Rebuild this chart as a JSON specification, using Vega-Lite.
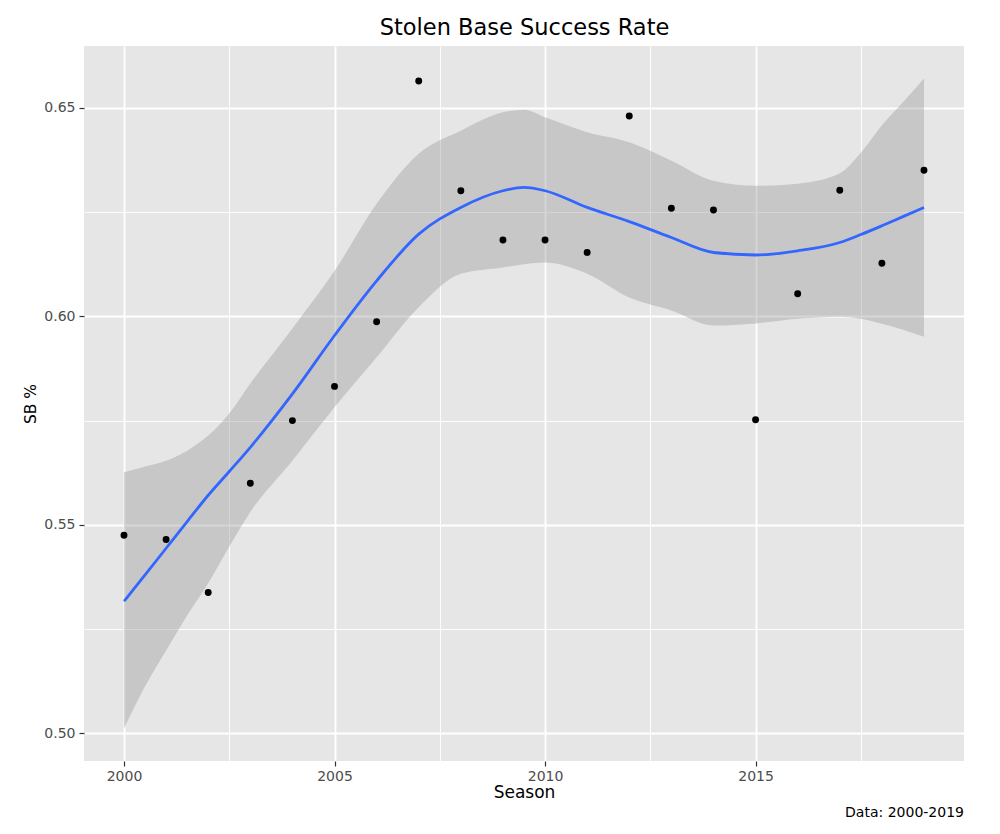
{
  "$schema": "https://vega.github.io/schema/vega-lite/v6.json",
  "autosize": {"type": "none"},
  "width": 880,
  "height": 715,
  "padding": {"left": 84, "top": 46, "right": 36, "bottom": 73},
  "background": "white",
  "title": {
    "text": "Data: 2000-2019",
    "orient": "bottom",
    "anchor": "end",
    "frame": "group",
    "font": "DejaVu Sans",
    "fontSize": 14,
    "fontWeight": "normal",
    "color": "#000000",
    "offset": 6
  },
  "config": {
    "view": {"stroke": null, "fill": "#E6E6E6"},
    "font": "DejaVu Sans"
  },
  "datasets": {
    "fit": [
      {"season": 2000, "fit": 0.5317, "lo": 0.5012, "hi": 0.5626},
      {"season": 2000.5, "fit": 0.538, "lo": 0.5113, "hi": 0.564},
      {"season": 2001, "fit": 0.5444, "lo": 0.5199, "hi": 0.5654},
      {"season": 2001.5, "fit": 0.5508, "lo": 0.5283, "hi": 0.5678},
      {"season": 2002, "fit": 0.5571, "lo": 0.536, "hi": 0.5714},
      {"season": 2002.5, "fit": 0.5628, "lo": 0.5448, "hi": 0.5767},
      {"season": 2003, "fit": 0.5686, "lo": 0.5531, "hi": 0.5839},
      {"season": 2004, "fit": 0.5814, "lo": 0.5654, "hi": 0.5971},
      {"season": 2005, "fit": 0.5954, "lo": 0.5782, "hi": 0.6109},
      {"season": 2006, "fit": 0.6085, "lo": 0.5902, "hi": 0.627},
      {"season": 2007, "fit": 0.6197, "lo": 0.6022, "hi": 0.639},
      {"season": 2008, "fit": 0.6261, "lo": 0.6102, "hi": 0.6445},
      {"season": 2009, "fit": 0.6301, "lo": 0.6117, "hi": 0.6489},
      {"season": 2009.5, "fit": 0.6309, "lo": 0.6125, "hi": 0.6495},
      {"season": 2010, "fit": 0.6301, "lo": 0.6129, "hi": 0.6477},
      {"season": 2011, "fit": 0.6261, "lo": 0.6102, "hi": 0.6441},
      {"season": 2012, "fit": 0.6227, "lo": 0.6045, "hi": 0.6417},
      {"season": 2013, "fit": 0.6189, "lo": 0.6014, "hi": 0.6373},
      {"season": 2014, "fit": 0.6153, "lo": 0.5978, "hi": 0.6325},
      {"season": 2015, "fit": 0.6147, "lo": 0.5983, "hi": 0.6313},
      {"season": 2016, "fit": 0.6157, "lo": 0.5994, "hi": 0.6318},
      {"season": 2017, "fit": 0.6177, "lo": 0.5999, "hi": 0.6343},
      {"season": 2017.5, "fit": 0.6196, "lo": 0.5994, "hi": 0.6392},
      {"season": 2018, "fit": 0.6217, "lo": 0.5982, "hi": 0.6458},
      {"season": 2018.5, "fit": 0.6239, "lo": 0.5968, "hi": 0.6513},
      {"season": 2019, "fit": 0.6261, "lo": 0.5951, "hi": 0.657}
    ],
    "obs": [
      {"season": 2000, "sb": 0.5475},
      {"season": 2001, "sb": 0.5465},
      {"season": 2002, "sb": 0.5338},
      {"season": 2003, "sb": 0.56},
      {"season": 2004, "sb": 0.575},
      {"season": 2005, "sb": 0.5832},
      {"season": 2006, "sb": 0.5987},
      {"season": 2007, "sb": 0.6564},
      {"season": 2008, "sb": 0.6301},
      {"season": 2009, "sb": 0.6183},
      {"season": 2010, "sb": 0.6183},
      {"season": 2011, "sb": 0.6153},
      {"season": 2012, "sb": 0.648},
      {"season": 2013, "sb": 0.6259},
      {"season": 2014, "sb": 0.6255},
      {"season": 2015, "sb": 0.5752},
      {"season": 2016, "sb": 0.6054},
      {"season": 2017, "sb": 0.6302},
      {"season": 2018, "sb": 0.6127},
      {"season": 2019, "sb": 0.635}
    ]
  },
  "layer": [
    {
      "data": {"name": "fit"},
      "mark": {"type": "area", "color": "#999999", "opacity": 0.4, "interpolate": "monotone"},
      "encoding": {
        "x": {
          "field": "season", "type": "quantitative",
          "scale": {"domain": [1999.05, 2019.95], "nice": false, "zero": false},
          "axis": {
            "orient": "bottom",
            "title": "Season",
            "values": [2000, 2002.5, 2005, 2007.5, 2010, 2012.5, 2015, 2017.5],
            "format": "d",
            "labelExpr": "datum.value % 5 === 0 ? datum.label : ''",
            "labelFont": "DejaVu Sans",
            "labelFontSize": 14,
            "labelColor": "#4D4D4D",
            "labelPadding": 3,
            "tickSize": 5,
            "tickWidth": 1.2,
            "tickColor": {"condition": {"test": "datum.value % 5 === 0", "value": "#333333"}, "value": "transparent"},
            "domain": false,
            "grid": true,
            "gridColor": "#FFFFFF",
            "gridWidth": {"condition": {"test": "datum.value % 5 === 0", "value": 1.8}, "value": 0.9},
            "titleFont": "DejaVu Sans",
            "titleFontSize": 17,
            "titleFontWeight": "normal",
            "titleColor": "#000000",
            "titlePadding": 1
          }
        },
        "y": {
          "field": "lo", "type": "quantitative",
          "scale": {"domain": [0.4934, 0.6648], "nice": false, "zero": false},
          "axis": {
            "orient": "left",
            "title": "SB %",
            "values": [0.5, 0.525, 0.55, 0.575, 0.6, 0.625, 0.65],
            "format": ".2f",
            "labelExpr": "indexof([0.5, 0.55, 0.6, 0.65], datum.value) >= 0 ? datum.label : ''",
            "labelFont": "DejaVu Sans",
            "labelFontSize": 14,
            "labelColor": "#4D4D4D",
            "labelPadding": 4,
            "tickSize": 5,
            "tickWidth": 1.2,
            "tickColor": {"condition": {"test": "indexof([0.5, 0.55, 0.6, 0.65], datum.value) >= 0", "value": "#333333"}, "value": "transparent"},
            "domain": false,
            "grid": true,
            "gridColor": "#FFFFFF",
            "gridWidth": {"condition": {"test": "indexof([0.5, 0.55, 0.6, 0.65], datum.value) >= 0", "value": 1.8}, "value": 0.9},
            "titleFont": "DejaVu Sans",
            "titleFontSize": 15.5,
            "titleFontWeight": "normal",
            "titleColor": "#000000",
            "titlePadding": 5
          }
        },
        "y2": {"field": "hi"}
      }
    },
    {
      "data": {"name": "fit"},
      "mark": {"type": "line", "color": "#3366FF", "strokeWidth": 2.8, "interpolate": "monotone"},
      "encoding": {
        "x": {"field": "season", "type": "quantitative", "scale": {"domain": [1999.05, 2019.95], "nice": false, "zero": false}, "axis": null},
        "y": {"field": "fit", "type": "quantitative", "scale": {"domain": [0.4934, 0.6648], "nice": false, "zero": false}}
      }
    },
    {
      "data": {"name": "obs"},
      "mark": {"type": "circle", "color": "#000000", "opacity": 1, "size": 48},
      "encoding": {
        "x": {
          "field": "season", "type": "quantitative",
          "scale": {"domain": [1999.05, 2019.95], "nice": false, "zero": false},
          "axis": {
            "orient": "top",
            "title": "Stolen Base Success Rate",
            "labels": false,
            "ticks": false,
            "domain": false,
            "grid": false,
            "titleFont": "DejaVu Sans",
            "titleFontSize": 22.5,
            "titleFontWeight": "normal",
            "titleColor": "#000000",
            "titlePadding": 7
          }
        },
        "y": {"field": "sb", "type": "quantitative", "scale": {"domain": [0.4934, 0.6648], "nice": false, "zero": false}}
      }
    }
  ]
}
